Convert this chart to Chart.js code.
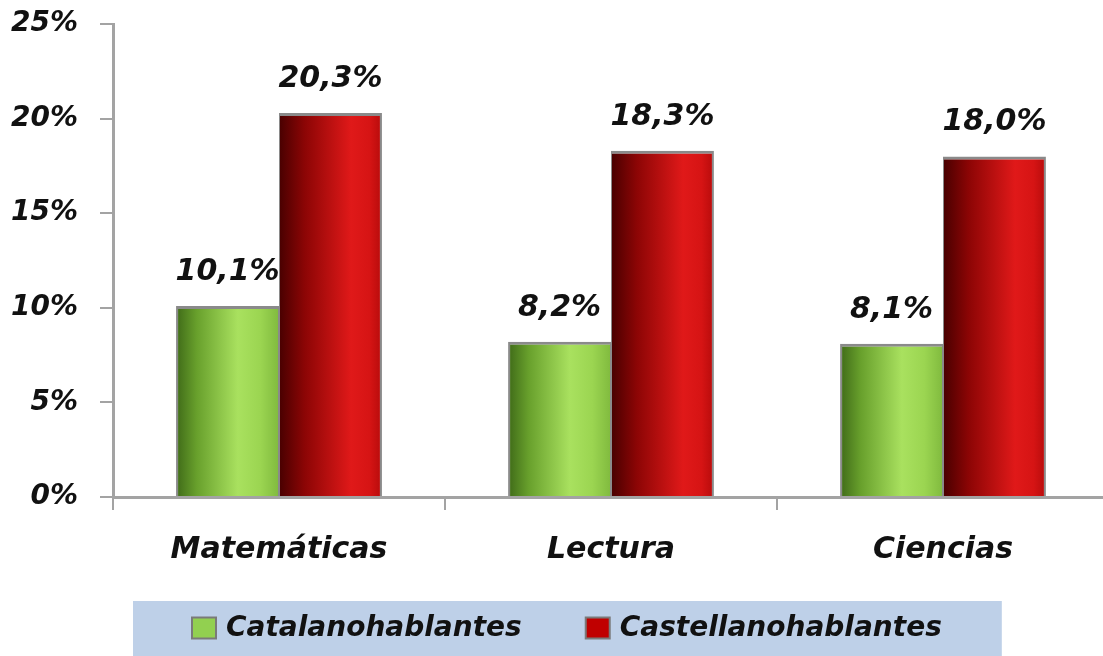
<!DOCTYPE html>
<html>
<head>
<meta charset="utf-8">
<script src="https://cdn.jsdelivr.net/npm/chart.js@4.4.0/dist/chart.umd.min.js"></script>
<style>
  html, body { margin: 0; padding: 0; background: #fff; overflow: hidden; }
  #wrap { position: relative; width: 1112px; height: 656px; }
</style>
</head>
<body>
<div id="wrap"><canvas id="chart"></canvas></div>
<script>
const categories = ['Matemáticas', 'Lectura', 'Ciencias'];
const seriesNames = ['Catalanohablantes', 'Castellanohablantes'];
const catalanValues = [10.1, 8.2, 8.1];
const castellanoValues = [20.3, 18.3, 18.0];
const yTickValues = [0, 5, 10, 15, 20, 25];

const FONT = 'DejaVu Sans';
const TEXT = '#111111';
const AXIS = '#a3a3a3';
const CAT_PCT = 0.62;

const greenStops = [[0, '#3f6a18'], [0.2, '#68a02c'], [0.6, '#a9e15f'], [0.82, '#9bd551'], [1, '#80ba3e']];
const redStops = [[0, '#480000'], [0.25, '#8c0505'], [0.7, '#e01919'], [0.88, '#d61414'], [1, '#b60b0b']];

// horizontal shading across each bar, worked out from the x scale
function barGradient(stops, solid) {
    return (ctx) => {
        const chart = ctx.chart;
        const xScale = chart.scales.x;
        if (!chart.chartArea || !xScale || ctx.type !== 'data') return solid;
        const catW = xScale.width / categories.length;
        const barW = catW * CAT_PCT / 2;
        const left = xScale.getPixelForValue(ctx.dataIndex) - catW * CAT_PCT / 2 + ctx.datasetIndex * barW;
        const g = chart.ctx.createLinearGradient(left, 0, left + barW, 0);
        stops.forEach(s => g.addColorStop(s[0], s[1]));
        return g;
    };
}

const valueLabels = {
    id: 'valueLabels',
    afterDatasetsDraw(chart) {
        const ctx = chart.ctx;
        ctx.save();
        ctx.font = `italic bold 30px "${FONT}"`;
        ctx.fillStyle = TEXT;
        ctx.textAlign = 'center';
        ctx.textBaseline = 'alphabetic';
        chart.data.datasets.forEach((ds, i) => {
            chart.getDatasetMeta(i).data.forEach((bar, j) => {
                const txt = ds.data[j].toFixed(1).replace('.', ',') + '%';
                ctx.fillText(txt, bar.x, bar.y - 26);
            });
        });
        ctx.restore();
    }
};

const boxLegend = {
    id: 'boxLegend',
    afterDraw(chart) {
        const ctx = chart.ctx;
        const area = chart.chartArea;
        ctx.save();
        ctx.font = `italic bold 28px "${FONT}"`;
        const markW = 24, markH = 21, gap = 10, itemGap = 64, padL = 59, padR = 60, boxH = 55;
        const items = chart.data.datasets.map(ds => ({
            label: ds.label, color: ds.legendColor, w: ctx.measureText(ds.label).width
        }));
        let total = 0;
        items.forEach((it, i) => { total += markW + gap + it.w + (i ? itemGap : 0); });
        const boxLeft = area.left + 20;
        const boxTop = chart.height - boxH;
        ctx.fillStyle = '#bed0e8';
        ctx.fillRect(boxLeft, boxTop, padL + total + padR, boxH);
        const cy = boxTop + 27;
        let x = boxLeft + padL;
        items.forEach(it => {
            ctx.fillStyle = it.color;
            ctx.fillRect(x, cy - markH / 2, markW, markH);
            ctx.strokeStyle = '#7a7a7a';
            ctx.lineWidth = 2;
            ctx.strokeRect(x, cy - markH / 2, markW, markH);
            ctx.fillStyle = TEXT;
            ctx.textAlign = 'left';
            ctx.textBaseline = 'middle';
            ctx.fillText(it.label, x + markW + gap, cy + 1);
            x += markW + gap + it.w + itemGap;
        });
        ctx.restore();
    }
};

document.addEventListener('DOMContentLoaded', () => {
    const chart = document.querySelector('#chart').getContext('2d');
    new Chart(chart, {
        type: 'bar',
        data: {
            labels: categories,
            datasets: [
                {
                    label: seriesNames[0],
                    data: catalanValues,
                    legendColor: '#92d050',
                    backgroundColor: barGradient(greenStops, '#92d050'),
                    borderColor: '#8a8a8a',
                    borderWidth: { top: 3, left: 2, right: 1, bottom: 0 },
                    borderSkipped: 'start'
                },
                {
                    label: seriesNames[1],
                    data: castellanoValues,
                    legendColor: '#c00000',
                    backgroundColor: barGradient(redStops, '#c00000'),
                    borderColor: '#8a8a8a',
                    borderWidth: { top: 3, left: 1, right: 2, bottom: 0 },
                    borderSkipped: 'start'
                }
            ]
        },
        options: {
            responsive: true,
            maintainAspectRatio: false,
            animation: false,
            categoryPercentage: CAT_PCT,
            barPercentage: 1.0,
            layout: {
                padding: { top: 24, left: 10, right: 3, bottom: 66 }
            },
            plugins: {
                legend: { display: false },
                tooltip: { enabled: false }
            },
            scales: {
                x: {
                    afterFit: (scale) => {
                        scale.paddingLeft = 0;
                        scale.paddingRight = 0;
                    },
                    grid: {
                        offset: true,
                        drawOnChartArea: false,
                        drawTicks: true,
                        tickLength: 13,
                        color: AXIS,
                        lineWidth: 2
                    },
                    border: { display: true, color: AXIS, width: 3 },
                    ticks: {
                        color: TEXT,
                        padding: 22,
                        font: { family: FONT, size: 30, weight: 'bold', style: 'italic' }
                    }
                },
                y: {
                    min: 0,
                    max: 25,
                    afterBuildTicks: (scale) => {
                        scale.ticks = yTickValues.map(v => ({ value: v }));
                    },
                    afterFit: (scale) => {
                        scale.width = 103;
                        scale.paddingTop = 17;
                        scale.paddingBottom = 17;
                    },
                    grid: {
                        drawOnChartArea: false,
                        drawTicks: true,
                        tickLength: 13,
                        color: AXIS,
                        lineWidth: 2
                    },
                    border: { display: true, color: AXIS, width: 3 },
                    ticks: {
                        color: TEXT,
                        padding: 22,
                        font: { family: FONT, size: 28, weight: 'bold', style: 'italic' },
                        callback: (v) => v + '%'
                    }
                }
            }
        },
        plugins: [valueLabels, boxLegend]
    });
});
</script>
</body>
</html>
